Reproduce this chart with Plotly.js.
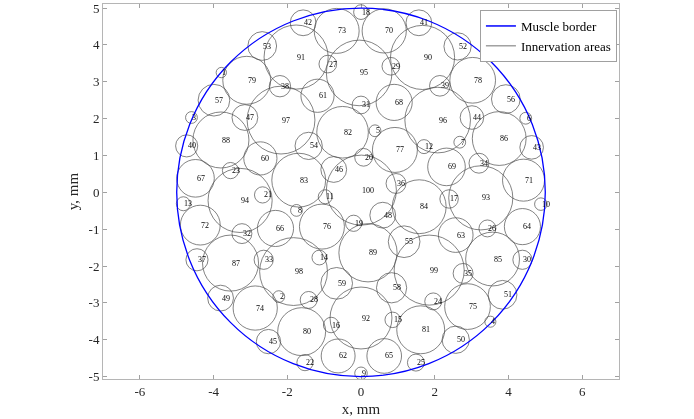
<!DOCTYPE html>
<html>
<head>
<meta charset="utf-8">
<script src="https://cdn.plot.ly/plotly-3.0.1.min.js"></script>
<style>
html,body{margin:0;padding:0;background:#fff;}
#chart{width:694px;height:419px;}
#chart svg{will-change:transform;}
</style>
</head>
<body>
<div id="chart"></div>
<script>
// Muscle border (mm)
const borderRadius = 5;

// Axis ticks
const xTickVals = [-6, -4, -2, 0, 2, 4, 6];
const xTickText = ['-6', '-4', '-2', '0', '2', '4', '6'];
const yTickVals = [-5, -4, -3, -2, -1, 0, 1, 2, 3, 4, 5];
const yTickText = ['-5', '-4', '-3', '-2', '-1', '0', '1', '2', '3', '4', '5'];

// Innervation areas: label, centre x (mm), centre y (mm), radius (mm)
const labels = [1,2,3,4,5,6,7,8,9,10,11,12,13,14,15,16,17,18,19,20,21,22,23,24,25,26,27,28,29,30,31,32,33,34,35,36,37,38,39,40,41,42,43,44,45,46,47,48,49,50,51,52,53,54,55,56,57,58,59,60,61,62,63,64,65,66,67,68,69,70,71,72,73,74,75,76,77,78,79,80,81,82,83,84,85,86,87,88,89,90,91,92,93,94,95,96,97,98,99,100];
const cx = [-3.79,-2.23,-4.60,3.51,0.38,4.47,2.68,-1.75,0.00,4.88,
            -0.97,1.71,-4.82,-1.13,0.86,-0.81,2.39,0.00,-0.20,0.07,
            -2.67,-1.52,-3.54,1.96,1.49,3.43,-0.90,-1.42,0.81,4.38,
            0.00,-3.23,-2.64,3.20,2.77,0.95,-4.45,-2.20,2.14,-4.73,
            1.57,-1.57,4.63,3.01,-2.51,-0.74,-3.15,0.59,-3.81,2.57,
            3.84,2.62,-2.68,-1.42,1.17,3.93,-3.99,0.83,-0.66,-2.73,
            -1.18,-0.62,2.57,4.38,0.63,-2.32,-4.49,0.90,2.32,0.63,
            4.41,-4.36,-0.66,-2.87,2.89,-1.06,0.92,3.03,-3.10,-1.61,
            1.62,-0.50,-1.69,1.58,3.57,3.75,-3.54,-3.80,0.19,1.67,
            -1.76,0.00,3.25,-3.28,-0.05,2.08,-2.17,-1.83,1.85,0.01];
const cy = [3.25,-2.83,2.03,-3.51,1.67,2.01,1.36,-0.49,-4.91,-0.32,
            -0.12,1.24,-0.31,-1.77,-3.46,-3.60,-0.18,4.89,-0.84,0.95,
            -0.07,-4.62,0.59,-2.96,-4.62,-0.98,3.48,-2.92,3.42,-1.83,
            2.37,-1.12,-1.83,0.79,-2.20,0.24,-1.83,2.88,2.89,1.26,
            4.60,4.60,1.22,2.03,-4.05,0.62,2.03,-0.62,-2.87,-4.00,
            -2.78,3.96,3.97,1.26,-1.34,2.53,2.50,-2.59,-2.47,0.92,
            2.62,-4.44,-1.16,-0.93,-4.44,-0.98,0.38,2.44,0.69,4.38,
            0.33,-0.89,4.38,-3.14,-3.10,-0.93,1.15,3.04,3.04,-3.78,
            -3.73,1.63,0.33,-0.39,-1.81,1.46,-1.92,1.42,-1.64,3.66,
            3.67,-3.41,-0.15,-0.22,3.24,1.96,1.96,-2.15,-2.11,0.06];
const rad = [0.14,0.16,0.16,0.15,0.16,0.16,0.16,0.16,0.17,0.17,
             0.19,0.19,0.19,0.20,0.21,0.21,0.25,0.20,0.22,0.24,
             0.22,0.22,0.22,0.23,0.23,0.23,0.24,0.23,0.24,0.26,
             0.24,0.27,0.26,0.27,0.27,0.27,0.30,0.29,0.28,0.30,
             0.35,0.35,0.32,0.32,0.33,0.35,0.35,0.35,0.35,0.37,
             0.39,0.37,0.39,0.37,0.43,0.39,0.43,0.41,0.43,0.45,
             0.45,0.46,0.47,0.49,0.47,0.49,0.51,0.49,0.51,0.60,
             0.57,0.54,0.61,0.60,0.62,0.61,0.61,0.62,0.65,0.65,
             0.65,0.70,0.73,0.73,0.73,0.73,0.76,0.76,0.79,0.87,
             0.87,0.84,0.87,0.87,0.89,0.89,0.92,0.92,0.95,0.95];

const serif = '"Liberation Serif", "DejaVu Serif", serif';
const areaColor = '#4d4d4d';
const borderColor = '#0000ff';

const shapes = labels.map((l, i) => ({
  type: 'circle', xref: 'x', yref: 'y',
  x0: cx[i] - rad[i], x1: cx[i] + rad[i],
  y0: cy[i] - rad[i], y1: cy[i] + rad[i],
  line: {color: areaColor, width: 0.7}
}));
shapes.push({
  type: 'circle', xref: 'x', yref: 'y',
  x0: -borderRadius, x1: borderRadius, y0: -borderRadius, y1: borderRadius,
  line: {color: borderColor, width: 1.3}
});

const annotations = labels.map((l, i) => ({
  x: cx[i], y: cy[i], xref: 'x', yref: 'y', text: String(l),
  showarrow: false, xanchor: 'left', yanchor: 'middle', borderpad: 0,
  opacity: 0.99,
  font: {family: serif, size: 8, color: '#000'}
}));

const traces = [
  {x: [null], y: [null], type: 'scatter', mode: 'lines', name: 'Muscle border',
   line: {color: borderColor, width: 1.5}, hoverinfo: 'skip'},
  {x: [null], y: [null], type: 'scatter', mode: 'lines', name: 'Innervation areas',
   line: {color: areaColor, width: 0.8}, hoverinfo: 'skip'}
];

const axisCommon = {
  showline: true, linecolor: '#b5b5b5', linewidth: 1, mirror: 'ticks',
  ticks: 'inside', ticklen: 4, tickcolor: '#8a8a8a', tickwidth: 0.8,
  showgrid: false, zeroline: false,
  tickfont: {family: serif, size: 13, color: '#262626'}
};

const layout = {
  width: 694, height: 419,
  margin: {l: 103, r: 75, t: 4, b: 40},
  paper_bgcolor: '#fff', plot_bgcolor: '#fff',
  showlegend: true,
  legend: {x: 0.996, xanchor: 'right', y: 0.984, yanchor: 'top',
           bgcolor: '#fff', bordercolor: '#a0a0a0', borderwidth: 1,
           font: {family: serif, size: 13, color: '#000'},
           tracegroupgap: 0},
  xaxis: Object.assign({}, axisCommon, {
    range: [-7, 7], tickmode: 'array', tickvals: xTickVals, ticktext: xTickText,
    title: {text: 'x, mm', font: {family: serif, size: 15, color: '#262626'}, standoff: 5}
  }),
  yaxis: Object.assign({}, axisCommon, {
    range: [-5.065, 5.11], tickmode: 'array', tickvals: yTickVals, ticktext: yTickText,
    title: {text: 'y, mm', font: {family: serif, size: 15, color: '#262626'}, standoff: 6}
  }),
  shapes: shapes,
  annotations: annotations
};

Plotly.newPlot('chart', traces, layout, {displayModeBar: false, staticPlot: true});
</script>
</body>
</html>
